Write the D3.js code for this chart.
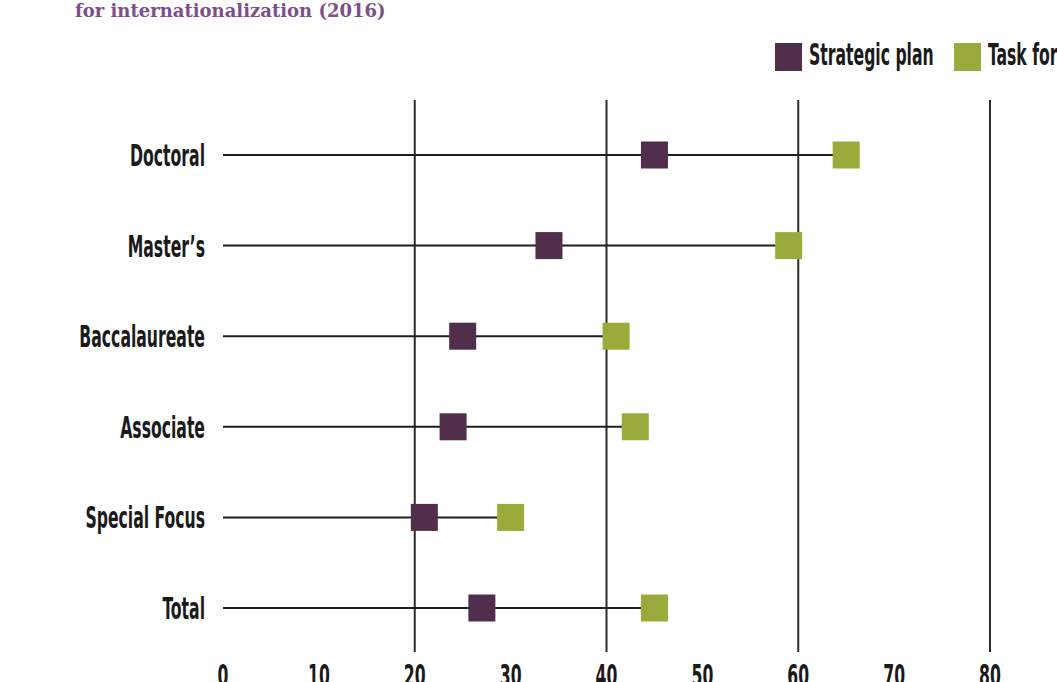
<!DOCTYPE html>
<html>
<head>
<meta charset="utf-8">
<script src="https://cdn.jsdelivr.net/npm/d3@7"></script>
<style>
	body { margin: 0; background: #fff; }
	svg { display: block; }
	.lab { font-family: "Liberation Sans Narrow", "DejaVu Sans Condensed", "Liberation Sans", sans-serif; font-weight: bold; fill: #1a1a1a; }
</style>
</head>
<body>
<div id="container"></div>
<script>
// data (percent of institutions)
var categories = ["Doctoral", "Master\u2019s", "Baccalaureate", "Associate", "Special Focus", "Total"];
var strategicPlan = [45, 34, 25, 24, 21, 27];
var taskForce = [65, 59, 41, 43, 30, 45];
var seriesNames = ["Strategic plan", "Task force"];
var xTicks = [0, 10, 20, 30, 40, 50, 60, 70, 80];
var gridTicks = [20, 40, 60, 80];

var w = 1057, h = 682;
var purple = "#512e4b", green = "#9bab3b";
var sq = 27;     // marker size
var sx = 0.58;   // squeeze for the condensed look

var svg = d3.select("#container")
	.append("svg")
	.attr("width", w)
	.attr("height", h);

var x = d3.scaleLinear().domain([0, 80]).range([223, 990]);
var y = d3.scalePoint().domain(categories).range([155, 608]);

// title fragment at the top
svg.append("text")
	.attr("x", 75)
	.attr("y", 17)
	.attr("fill", "#7d4f8a")
	.style("font-family", "'DejaVu Serif', serif")
	.style("font-weight", "bold")
	.style("font-size", "18px")
	.text("for internationalization (2016)");

// vertical grid lines
svg.selectAll("line.grid")
	.data(gridTicks)
	.enter()
	.append("line")
	.attr("class", "grid")
	.attr("x1", function(d){ return x(d); })
	.attr("x2", function(d){ return x(d); })
	.attr("y1", 100)
	.attr("y2", 652)
	.attr("stroke", "#2b2b2b")
	.attr("stroke-width", 2);

// row lines from 0 to the larger value
svg.selectAll("line.row")
	.data(categories)
	.enter()
	.append("line")
	.attr("class", "row")
	.attr("x1", x(0))
	.attr("x2", function(d, i){ return x(Math.max(strategicPlan[i], taskForce[i])); })
	.attr("y1", function(d){ return y(d); })
	.attr("y2", function(d){ return y(d); })
	.attr("stroke", "#1e1e1e")
	.attr("stroke-width", 2);

// category labels
svg.selectAll("text.cat")
	.data(categories)
	.enter()
	.append("text")
	.attr("class", "lab cat")
	.attr("text-anchor", "end")
	.attr("transform", function(d){ return "translate(205," + (y(d) + 11) + ") scale(" + sx + ",1)"; })
	.style("font-size", "30px")
	.text(function(d){ return d; });

// markers
function drawSeries(vals, color, cls){
	svg.selectAll("rect." + cls)
		.data(vals)
		.enter()
		.append("rect")
		.attr("class", cls)
		.attr("x", function(d){ return x(d) - sq / 2; })
		.attr("y", function(d, i){ return y(categories[i]) - sq / 2; })
		.attr("width", sq)
		.attr("height", sq)
		.attr("fill", color);
}
drawSeries(strategicPlan, purple, "sp");
drawSeries(taskForce, green, "tf");

// x tick labels (partly cut off at the bottom, as in the source)
svg.selectAll("text.tick")
	.data(xTicks)
	.enter()
	.append("text")
	.attr("class", "lab tick")
	.attr("text-anchor", "middle")
	.attr("transform", function(d){ return "translate(" + x(d) + ",686) scale(" + sx + ",1)"; })
	.style("font-size", "30px")
	.text(function(d){ return d; });

// legend
var legend = svg.append("g");
var legX = [775, 954];
seriesNames.forEach(function(name, i){
	legend.append("rect")
		.attr("x", legX[i])
		.attr("y", 43)
		.attr("width", 27)
		.attr("height", 28)
		.attr("fill", i === 0 ? purple : green);
	legend.append("text")
		.attr("class", "lab")
		.attr("transform", "translate(" + (legX[i] + 34) + ",65) scale(" + sx + ",1)")
		.style("font-size", "30px")
		.text(name);
});
</script>
</body>
</html>
